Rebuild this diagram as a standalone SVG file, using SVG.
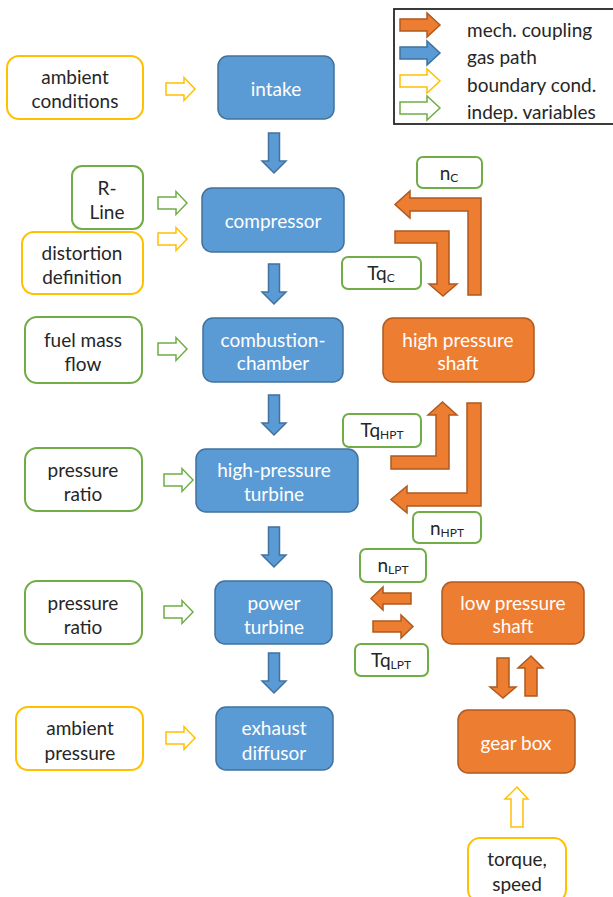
<svg xmlns="http://www.w3.org/2000/svg" width="613" height="897" viewBox="0 0 613 897">
<style>
text{font-family:Lato,"Noto Sans","Liberation Sans",sans-serif;font-size:19px;text-anchor:middle;dominant-baseline:central}
.dark{fill:#262626}
.white{fill:#ffffff}
.blue{fill:#5B9BD5;stroke:#41719C;stroke-width:1.5}
.orange{fill:#ED7D31;stroke:#AE5A21;stroke-width:1.5}
.yel{fill:#ffffff;stroke:#FFC000;stroke-width:2}
.grn{fill:#ffffff;stroke:#70AD47;stroke-width:2}
.yarr{fill:#ffffff;stroke:#FFC000;stroke-width:1.5}
.garr{fill:#ffffff;stroke:#70AD47;stroke-width:1.5}
.sub{font-size:12px}
.leg{text-anchor:start}
</style>
<defs>
<path id="rarr" d="M0,-6 H18 V-11.5 L29,0 L18,11.5 V6 H0 Z"/>
<path id="darr" d="M-5.5,0 H5.5 V28 H12 L0,40 L-12,28 H-5.5 Z"/>
</defs>

<g id="legend">
<rect x="394" y="9" width="225" height="115" fill="#ffffff" stroke="#262626" stroke-width="1.8"/>
<path class="orange" d="M400,19 H427 V13 L440,25 L427,37 V31 H400 Z"/>
<path class="blue" d="M400,47 H427 V41 L440,53 L427,65 V59 H400 Z"/>
<path class="yarr" d="M400,75 H427 V69 L440,81 L427,93 V87 H400 Z"/>
<path class="garr" d="M400,102 H427 V96 L440,108 L427,120 V114 H400 Z"/>
<text class="dark leg" x="467" y="29">mech. coupling</text>
<text class="dark leg" x="467" y="56">gas path</text>
<text class="dark leg" x="467" y="84">boundary cond.</text>
<text class="dark leg" x="467" y="111">indep. variables</text>
</g>

<g id="ambient-conditions">
<rect class="yel" x="7" y="56" width="136" height="63" rx="12"/>
<text class="dark" x="75" y="76">ambient</text>
<text class="dark" x="75" y="100">conditions</text>
</g>
<g id="intake">
<rect class="blue" x="218" y="56" width="116" height="63" rx="10"/>
<text class="white" x="276" y="88">intake</text>
</g>
<g id="r-line">
<rect class="grn" x="72" y="166" width="71" height="63" rx="10"/>
<text class="dark" x="107" y="187">R-</text>
<text class="dark" x="107" y="211">Line</text>
</g>
<g id="distortion-definition">
<rect class="yel" x="22" y="232" width="121" height="62" rx="12"/>
<text class="dark" x="82" y="252">distortion</text>
<text class="dark" x="82" y="276">definition</text>
</g>
<g id="compressor">
<rect class="blue" x="202" y="188" width="142" height="64" rx="10"/>
<text class="white" x="273" y="220">compressor</text>
</g>
<g id="fuel-mass-flow">
<rect class="grn" x="25" y="317" width="117" height="66" rx="12"/>
<text class="dark" x="83" y="339">fuel mass</text>
<text class="dark" x="83" y="363">flow</text>
</g>
<g id="combustion-chamber">
<rect class="blue" x="203" y="318" width="140" height="64" rx="10"/>
<text class="white" x="273" y="339">combustion-</text>
<text class="white" x="273" y="362">chamber</text>
</g>
<g id="pressure-ratio-hpt">
<rect class="grn" x="25" y="448" width="117" height="63" rx="12"/>
<text class="dark" x="83" y="469">pressure</text>
<text class="dark" x="83" y="493">ratio</text>
</g>
<g id="high-pressure-turbine">
<rect class="blue" x="196" y="449" width="162" height="63" rx="10"/>
<text class="white" x="274" y="469">high-pressure</text>
<text class="white" x="274" y="493">turbine</text>
</g>
<g id="pressure-ratio-pt">
<rect class="grn" x="25" y="581" width="117" height="63" rx="12"/>
<text class="dark" x="83" y="602">pressure</text>
<text class="dark" x="83" y="626">ratio</text>
</g>
<g id="power-turbine">
<rect class="blue" x="215" y="581" width="117" height="63" rx="10"/>
<text class="white" x="274" y="602">power</text>
<text class="white" x="274" y="626">turbine</text>
</g>
<g id="ambient-pressure">
<rect class="yel" x="16" y="707" width="127" height="63" rx="12"/>
<text class="dark" x="80" y="727">ambient</text>
<text class="dark" x="80" y="752">pressure</text>
</g>
<g id="exhaust-diffusor">
<rect class="blue" x="216" y="707" width="117" height="63" rx="10"/>
<text class="white" x="274" y="727">exhaust</text>
<text class="white" x="274" y="752">diffusor</text>
</g>
<g id="high-pressure-shaft">
<rect class="orange" x="383" y="318" width="151" height="64" rx="10"/>
<text class="white" x="458" y="339">high pressure</text>
<text class="white" x="458" y="362">shaft</text>
</g>
<g id="low-pressure-shaft">
<rect class="orange" x="442" y="582" width="142" height="62" rx="10"/>
<text class="white" x="513" y="602">low pressure</text>
<text class="white" x="513" y="625">shaft</text>
</g>
<g id="gear-box">
<rect class="orange" x="458" y="710" width="117" height="63" rx="10"/>
<text class="white" x="516" y="742">gear box</text>
</g>
<g id="torque-speed">
<rect class="yel" x="468" y="838" width="98" height="64" rx="12"/>
<text class="dark" x="517" y="858">torque,</text>
<text class="dark" x="517" y="883">speed</text>
</g>

<g id="label-nC">
<rect class="grn" x="417" y="157" width="65" height="31" rx="6"/>
<text class="dark" x="449" y="172"><tspan>n</tspan><tspan class="sub" dy="5">C</tspan></text>
</g>
<g id="label-TqC">
<rect class="grn" x="342" y="257" width="79" height="32" rx="6"/>
<text class="dark" x="381" y="272"><tspan>Tq</tspan><tspan class="sub" dy="5">C</tspan></text>
</g>
<g id="label-TqHPT">
<rect class="grn" x="343" y="414" width="78" height="33" rx="6"/>
<text class="dark" x="382" y="429"><tspan>Tq</tspan><tspan class="sub" dy="5">HPT</tspan></text>
</g>
<g id="label-nHPT">
<rect class="grn" x="413" y="512" width="68" height="31" rx="6"/>
<text class="dark" x="447" y="527"><tspan>n</tspan><tspan class="sub" dy="5">HPT</tspan></text>
</g>
<g id="label-nLPT">
<rect class="grn" x="360" y="549" width="66" height="33" rx="6"/>
<text class="dark" x="393" y="564"><tspan>n</tspan><tspan class="sub" dy="5">LPT</tspan></text>
</g>
<g id="label-TqLPT">
<rect class="grn" x="355" y="644" width="73" height="32" rx="6"/>
<text class="dark" x="391" y="659"><tspan>Tq</tspan><tspan class="sub" dy="5">LPT</tspan></text>
</g>

<g id="connectors">
<use href="#rarr" class="yarr" transform="translate(166,89)"/>
<use href="#rarr" class="garr" transform="translate(158,203)"/>
<use href="#rarr" class="yarr" transform="translate(158,239)"/>
<use href="#rarr" class="garr" transform="translate(158,349)"/>
<use href="#rarr" class="garr" transform="translate(164,480)"/>
<use href="#rarr" class="garr" transform="translate(164,612)"/>
<use href="#rarr" class="yarr" transform="translate(166,738)"/>

<use href="#darr" class="blue" transform="translate(274,133)"/>
<use href="#darr" class="blue" transform="translate(274,264)"/>
<use href="#darr" class="blue" transform="translate(274,395)"/>
<use href="#darr" class="blue" transform="translate(274,527)"/>
<use href="#darr" class="blue" transform="translate(274,653)"/>

<path class="orange" d="M481,295 L481,198 L410,198 L410,191 L395,204.5 L410,218 L410,211 L468,211 L468,295 Z"/>
<path class="orange" d="M395,231 L449,231 L449,284 L457,284 L443,296 L429,284 L437,284 L437,243 L395,243 Z"/>
<path class="orange" d="M391,469 L449,469 L449,415 L457,415 L442.5,402 L428,415 L436,415 L436,456 L391,456 Z"/>
<path class="orange" d="M467,403 L481,403 L481,506 L407,506 L407,513 L391,499.5 L407,486 L407,493 L467,493 Z"/>

<path class="orange" d="M411,593 L383,593 L383,587 L371,598.5 L383,610 L383,604 L411,604 Z"/>
<path class="orange" d="M373,621 L401,621 L401,615 L413,626.5 L401,638 L401,632 L373,632 Z"/>
<path class="orange" d="M497,658 L509,658 L509,687 L516,687 L503,698 L490,687 L497,687 Z"/>
<path class="orange" d="M525,696 L537,696 L537,668 L543,668 L531,656 L518,668 L525,668 Z"/>

<path class="yarr" d="M511,827 L523,827 L523,799 L528,799 L517,787 L505,799 L511,799 Z"/>
</g>
</svg>
